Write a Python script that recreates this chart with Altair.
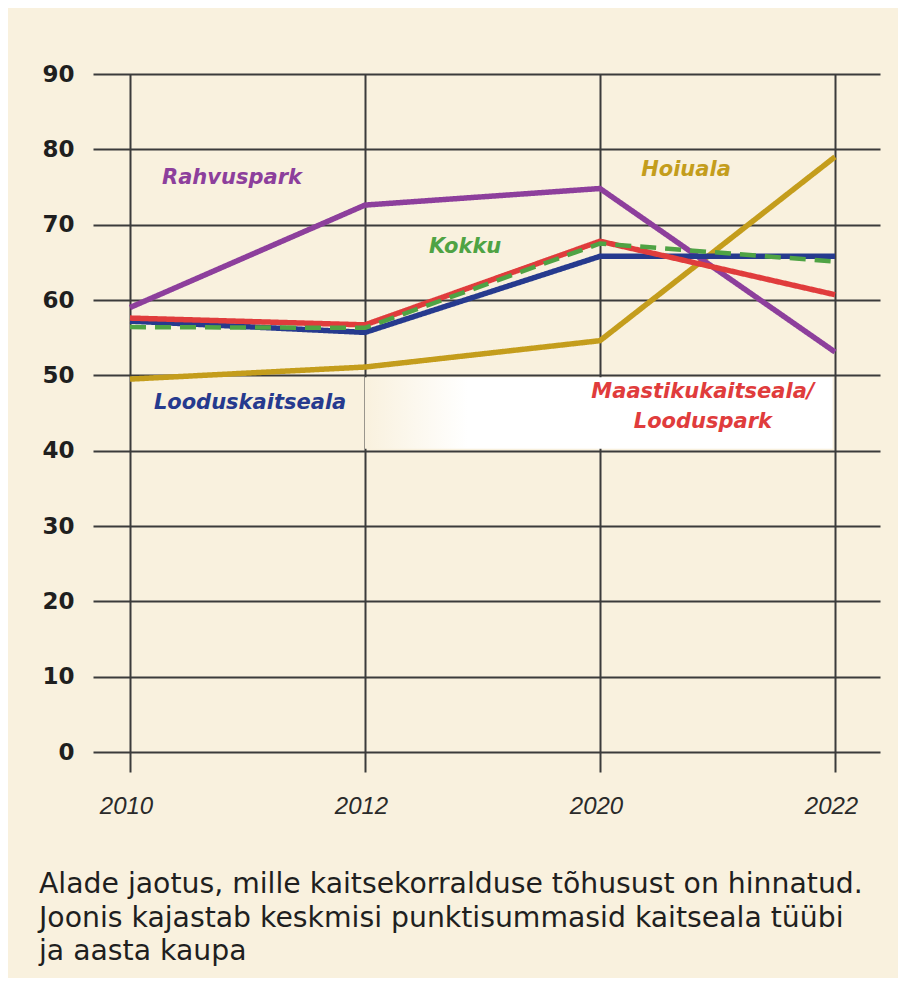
import json
import altair as alt
import pandas as pd

years = ["2010", "2012", "2020", "2022"]

series_names = ["Hoiuala", "Rahvuspark", "Looduskaitseala", "Maastikukaitseala/Looduspark", "Kokku"]
hoiuala = [49.5, 51.1, 54.6, 79.0]
rahvuspark = [59.0, 72.6, 74.8, 53.1]
looduskaitseala = [57.2, 55.7, 65.8, 65.8]
maastik = [57.6, 56.7, 67.8, 60.7]
kokku = [56.4, 56.3, 67.5, 65.1]
series_values = [hoiuala, rahvuspark, looduskaitseala, maastik, kokku]
series_colors = ["#c49d1c", "#8d3f9c", "#263a8e", "#e03c3c", "#4fa344"]
series_dash = [[1, 0], [1, 0], [1, 0], [1, 0], [16, 9]]
series_width = [5.5, 5.5, 5.5, 5.5, 4.5]

ann_text = ["Rahvuspark", "Kokku", "Hoiuala", "Looduskaitseala", "Maastikukaitseala/", "Looduspark"]
ann_i = [0.434, 1.426, 2.366, 0.511, 2.438, 2.438]
ann_val = [76.2, 67.0, 77.3, 46.3, 47.8, 43.8]
ann_color = ["#8d3f9c", "#4fa344", "#c49d1c", "#263a8e", "#e03c3c", "#e03c3c"]

caption = [
    "Alade jaotus, mille kaitsekorralduse tõhusust on hinnatud.",
    "Joonis kajastab keskmisi punktisummasid kaitseala tüübi",
    "ja aasta kaupa",
]

y_ticks = list(range(0, 100, 10))

rows = []
for k, name in enumerate(series_names):
    for i, v in enumerate(series_values[k]):
        rows.append({"series": name, "i": i, "year": years[i], "value": v, "order": k})
df = pd.DataFrame(rows)

ann_df = pd.DataFrame({"text": ann_text, "i": ann_i, "value": ann_val, "color": ann_color})
box_df = pd.DataFrame({"i": [1.0], "i2": [2.99], "v": [49.75], "v2": [40.25]})

xscale = alt.Scale(domain=[-0.1574, 3.1915], nice=False, zero=False)
yscale = alt.Scale(domain=[0, 90], nice=False)

label_expr = json.dumps(years) + "[datum.value]"

xaxis = alt.Axis(
    values=[0, 1, 2, 3], labelExpr=label_expr, title=None, grid=True,
    gridColor="#3b3b3b", gridWidth=2, domain=False, ticks=True, tickSize=20,
    tickColor="#3b3b3b", tickWidth=2, labelFont="Liberation Sans",
    labelFontStyle="italic", labelFontSize=24, labelColor="#2a2a2a", labelPadding=22,
    labelOffset=-4,
)
yaxis = alt.Axis(
    values=y_ticks, title=None, grid=True, gridColor="#3b3b3b", gridWidth=2,
    domain=False, ticks=False, labelFont="DejaVu Sans", labelFontWeight="bold",
    labelFontSize=23, labelColor="#1f1f1f", labelPadding=19,
)

box = alt.Chart(box_df).mark_rect(
    color=alt.Gradient(
        gradient="linear", x1=0, x2=1, y1=0, y2=0,
        stops=[alt.GradientStop(color="#f9f1de", offset=0),
               alt.GradientStop(color="#ffffff", offset=0.22),
               alt.GradientStop(color="#ffffff", offset=1)],
    )
).encode(
    x=alt.X("i:Q", scale=xscale, axis=xaxis),
    x2="i2:Q",
    y=alt.Y("v:Q", scale=yscale, axis=yaxis),
    y2="v2:Q",
)

layers = [box]
for k, name in enumerate(series_names):
    layers.append(
        alt.Chart(df[df.series == name]).mark_line(
            color=series_colors[k], strokeWidth=series_width[k], strokeDash=series_dash[k],
            strokeCap="butt", strokeJoin="miter",
        ).encode(
            x=alt.X("i:Q", scale=xscale),
            y=alt.Y("value:Q", scale=yscale),
        )
    )

ann = alt.Chart(ann_df).mark_text(
    font="DejaVu Sans", fontStyle="italic", fontWeight="bold", fontSize=21, align="center", baseline="middle"
).encode(
    x=alt.X("i:Q", scale=xscale),
    y=alt.Y("value:Q", scale=yscale),
    text="text:N",
    color=alt.Color("color:N", scale=None),
)
layers.append(ann)

chart = alt.layer(*layers).properties(
    width=787, height=678,
    autosize=alt.AutoSizeParams(type="none"),
    padding={"left": 85, "top": 66, "right": 18, "bottom": 226},
    background="#f9f1de",
    title=alt.TitleParams(
        text=caption, orient="bottom", anchor="start", font="DejaVu Sans", fontSize=28.3,
        fontWeight="normal", color="#1f1f1f", lineHeight=33.5, dx=-3, offset=53,
    ),
).configure_view(stroke=None)

chart.save("out.html", embed_options={"renderer": "svg", "actions": False})
